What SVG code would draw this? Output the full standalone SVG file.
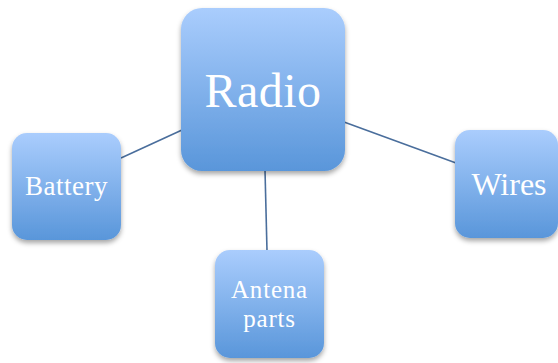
<svg xmlns="http://www.w3.org/2000/svg" width="558" height="363" viewBox="0 0 558 363">
<defs>
<linearGradient id="g" x1="0" y1="0" x2="0" y2="1">
<stop offset="0" stop-color="#aacdfd"/>
<stop offset="1" stop-color="#5996da"/>
</linearGradient>
<filter id="sh" x="-20%" y="-20%" width="140%" height="140%">
<feDropShadow dx="0" dy="3" stdDeviation="2.5" flood-color="#000" flood-opacity="0.35"/>
</filter>
</defs>
<style>
.box{fill:url(#g);filter:url(#sh)}
.t{font-family:"Liberation Serif","Times New Roman",serif;fill:#fff;text-anchor:middle}
.c{stroke:#4a6e9c;stroke-width:1.6;fill:none}
</style>
<rect width="558" height="363" fill="#fff"/>
<g id="connectors">
<line class="c" x1="121" y1="158" x2="182" y2="130"/>
<line class="c" x1="344" y1="122" x2="456" y2="163"/>
<line class="c" x1="265" y1="170" x2="267" y2="251"/>
</g>
<g id="radio">
<rect class="box" x="181" y="8" width="164" height="163" rx="21"/>
<text class="t" x="263" y="107" font-size="48" letter-spacing="0.5">Radio</text>
</g>
<g id="battery">
<rect class="box" x="12" y="133" width="109" height="107" rx="15"/>
<text class="t" x="66.5" y="195" font-size="27" letter-spacing="0.5">Battery</text>
</g>
<g id="wires">
<rect class="box" x="455" y="130" width="103" height="108" rx="15"/>
<text class="t" x="509" y="195" font-size="32">Wires</text>
</g>
<g id="antena">
<rect class="box" x="215" y="250" width="109" height="108" rx="15"/>
<text class="t" x="269.5" y="298" font-size="25" letter-spacing="0.8">Antena</text>
<text class="t" x="269.5" y="327" font-size="25" letter-spacing="0.8">parts</text>
</g>
</svg>
